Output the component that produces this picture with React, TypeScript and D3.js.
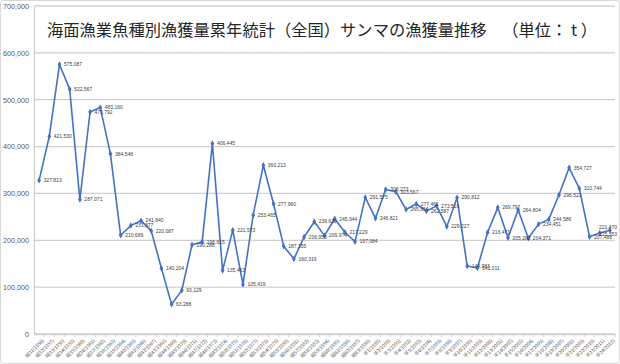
import React, { useRef, useEffect } from "react";
import * as d3 from "d3";

// 漁獲量 (t), 昭和31(1956) - 平成24(2012)
const years = d3.range(1956, 2013);
const catches = [
  327813, 421530, 575087, 522567, 287071, 473792, 483160, 384548, 210689, 231377,
  241840, 220087, 140204, 63288, 93129, 190288, 196615, 406445, 135463, 221573,
  105419, 253465, 360213, 277960, 187155, 160319, 206958, 239639, 209974, 245944,
  217229, 197084, 291575, 246821, 308273, 303567, 265854, 277461, 262587, 273510,
  229227, 290812, 144983, 141011, 216471, 269797, 205282, 264804, 204371, 234451,
  244586, 296521, 354727, 310744, 207488, 215353, 221470,
];
const yTicks = [0, 100000, 200000, 300000, 400000, 500000, 600000, 700000];
const title = "海面漁業魚種別漁獲量累年統計（全国）サンマの漁獲量推移";
const unit = "（単位： t ）";

const eraLabel = (y: number) =>
  y <= 1988 ? `昭${y - 1925}(${y})` : `平${y - 1988}(${y})`;

const App = () => {
  const ref = useRef<SVGSVGElement>(null);

  useEffect(() => {
    if (!ref.current) return;
    const width = 620;
    const height = 364;
    const margin = { top: 6, right: 5, bottom: 30, left: 34 };

    const svg = d3.select(ref.current);
    svg.selectAll("*").remove();

    svg.append("rect")
      .attr("x", 0.5).attr("y", 0.5)
      .attr("width", width - 1).attr("height", height - 1)
      .attr("rx", 3)
      .attr("fill", "#fff")
      .attr("stroke", "#d9d9d9");

    const x = d3.scaleBand<number>()
      .domain(years)
      .range([margin.left, width - margin.right]);

    const y = d3.scaleLinear()
      .domain([0, 700000])
      .range([height - margin.bottom, margin.top]);

    // gridlines
    svg.append("g")
      .selectAll("line")
      .data(yTicks)
      .join("line")
      .attr("x1", margin.left)
      .attr("x2", width - margin.right)
      .attr("y1", d => y(d))
      .attr("y2", d => y(d))
      .attr("stroke", "#d0d0d0")
      .attr("stroke-width", 1.3);

    // y axis
    const yAxis = svg.append("g")
      .attr("transform", `translate(${margin.left},0)`)
      .call(d3.axisLeft(y).tickValues(yTicks).tickSize(0).tickPadding(5).tickFormat(d3.format(",")));
    yAxis.select(".domain").attr("stroke", "#d0d0d0").attr("stroke-width", 1.3);
    yAxis.selectAll("text")
      .attr("fill", "#595959")
      .attr("font-size", 7.2)
      .attr("font-family", "Liberation Sans, Arial, sans-serif");

    // x axis
    const xAxis = svg.append("g")
      .attr("transform", `translate(0,${height - margin.bottom})`)
      .call(d3.axisBottom(x).tickSize(0).tickFormat(d => eraLabel(d as number)));
    xAxis.select(".domain").attr("stroke", "#d0d0d0").attr("stroke-width", 1.3);
    xAxis.selectAll("text")
      .attr("fill", "#595959")
      .attr("font-size", 4.8)
      .attr("font-family", "Noto Sans CJK JP, sans-serif")
      .attr("text-anchor", "end")
      .attr("dy", 0)
      .attr("transform", "translate(3,5) rotate(-45)");

    // tick marks between categories
    svg.append("g")
      .selectAll("line")
      .data(years)
      .join("line")
      .attr("x1", d => x(d)! + x.bandwidth())
      .attr("x2", d => x(d)! + x.bandwidth())
      .attr("y1", height - margin.bottom)
      .attr("y2", height - margin.bottom + 3)
      .attr("stroke", "#d0d0d0");

    const cx = (i: number) => x(years[i])! + x.bandwidth() / 2;

    const line = d3.line<number>()
      .x((d, i) => cx(i))
      .y(d => y(d));

    svg.append("path")
      .datum(catches)
      .attr("fill", "none")
      .attr("stroke", "#4472c4")
      .attr("stroke-width", 1.6)
      .attr("stroke-linejoin", "round")
      .attr("d", line);

    svg.append("g")
      .selectAll("path")
      .data(catches)
      .join("path")
      .attr("d", d3.symbol(d3.symbolDiamond, 12))
      .attr("transform", (d, i) => `translate(${cx(i)},${y(d)})`)
      .attr("fill", "#4472c4");

    // data labels; the last two are pulled in so they stay inside the chart
    const n = catches.length;
    svg.append("g")
      .selectAll("text")
      .data(catches)
      .join("text")
      .attr("x", (d, i) => (i >= n - 2 ? width - 3 : cx(i) + 4.5))
      .attr("y", (d, i) => y(d) + (i === n - 1 ? -3 : i === n - 2 ? 1.5 : 0))
      .attr("text-anchor", (d, i) => (i >= n - 2 ? "end" : "start"))
      .attr("dy", "0.35em")
      .attr("font-size", 5)
      .attr("font-family", "Liberation Sans, Arial, sans-serif")
      .attr("fill", "#404040")
      .text(d => d3.format(",")(d));

    svg.append("text")
      .attr("x", 47)
      .attr("y", 30)
      .attr("dy", "0.35em")
      .attr("font-size", 16.3)
      .attr("font-family", "Noto Sans CJK JP, sans-serif")
      .attr("fill", "#262626")
      .text(title);

    svg.append("text")
      .attr("x", 597)
      .attr("y", 30)
      .attr("dy", "0.35em")
      .attr("text-anchor", "end")
      .attr("font-size", 16.3)
      .attr("font-family", "Noto Sans CJK JP, sans-serif")
      .attr("fill", "#262626")
      .text(unit);
  }, []);

  return (
    <svg
      ref={ref}
      width={620}
      height={364}
      style={{ position: "absolute", left: 0, top: 0 }}
    />
  );
};

export default App;
